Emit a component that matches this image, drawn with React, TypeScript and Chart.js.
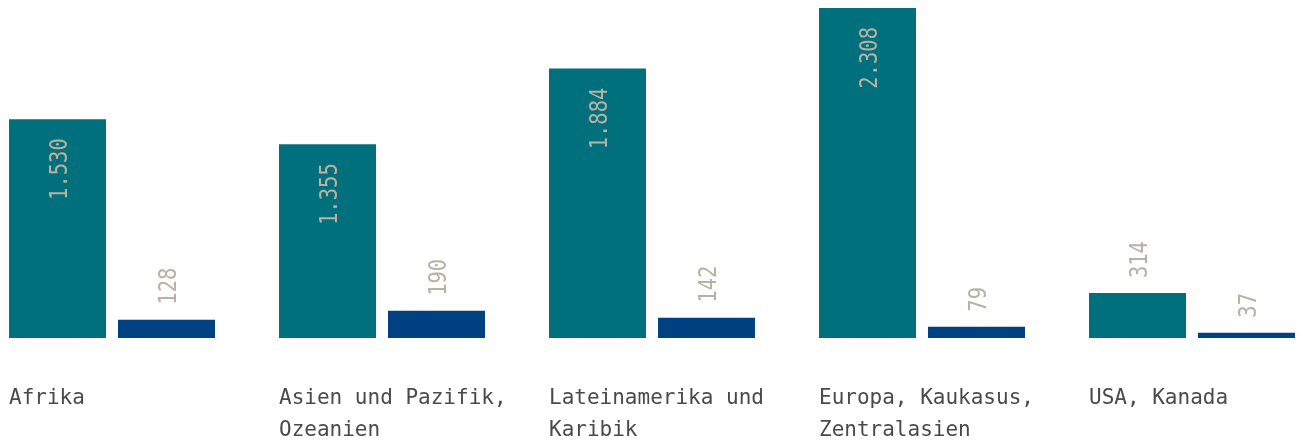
import React, { useEffect, useRef } from "react";
import { Chart, registerables } from "chart.js";

Chart.register(...registerables);

const categories: string[][] = [
  ["Afrika"],
  ["Asien und Pazifik,", "Ozeanien"],
  ["Lateinamerika und", "Karibik"],
  ["Europa, Kaukasus,", "Zentralasien"],
  ["USA, Kanada"],
];
const seriesA: number[] = [1530, 1355, 1884, 2308, 314];
const seriesB: number[] = [128, 190, 142, 79, 37];

const TEAL = "#00707c";
const BLUE = "#004182";
const LABEL = "#b9b1a1";
const TEXT = "#4a4a4a";

function fmt(v: number): string {
  return String(v).replace(/\B(?=(\d{3})+(?!\d))/g, ".");
}

const labelPlugin = {
  id: "customLabels",
  afterDatasetsDraw(chart: any) {
    const ctx: CanvasRenderingContext2D = chart.ctx;
    const fontSize = 25;
    const squeeze = 0.82;
    const cap = fontSize * 0.729;
    ctx.save();
    ctx.font = `${fontSize}px "DejaVu Sans Mono"`;
    ctx.fillStyle = LABEL;
    chart.data.datasets.forEach((ds: any, di: number) => {
      const meta = chart.getDatasetMeta(di);
      meta.data.forEach((bar: any, i: number) => {
        const text = fmt(ds.data[i]);
        const textLen = ctx.measureText(text).width * squeeze;
        const h = bar.base - bar.y;
        ctx.save();
        if (h > textLen + 19 + 12) {
          ctx.translate(bar.x, bar.y + 19);
          ctx.rotate(-Math.PI / 2);
          ctx.scale(squeeze, 1);
          ctx.textAlign = "right";
        } else {
          ctx.translate(bar.x, bar.y - 15);
          ctx.rotate(-Math.PI / 2);
          ctx.scale(squeeze, 1);
          ctx.textAlign = "left";
        }
        ctx.textBaseline = "alphabetic";
        ctx.fillText(text, 0, cap / 2);
        ctx.restore();
      });
    });
    // category labels
    const meta0 = chart.getDatasetMeta(0);
    ctx.font = `21px "DejaVu Sans Mono"`;
    ctx.fillStyle = TEXT;
    ctx.textAlign = "left";
    ctx.textBaseline = "alphabetic";
    meta0.data.forEach((bar: any, i: number) => {
      const left = bar.x - bar.width / 2;
      categories[i].forEach((line, li) => {
        ctx.fillText(line, left, chart.chartArea.bottom + 66 + li * 32);
      });
    });
    ctx.restore();
  },
};

export default function App() {
  const ref = useRef<HTMLCanvasElement | null>(null);
  useEffect(() => {
    if (!ref.current) return;
    const chart = new Chart(ref.current, {
      type: "bar",
      data: {
        labels: categories.map((c) => c.join(" ")),
        datasets: [
          {
            data: seriesA,
            backgroundColor: TEAL,
            categoryPercentage: 218 / 270,
            barPercentage: 97 / 109,
          },
          {
            data: seriesB,
            backgroundColor: BLUE,
            categoryPercentage: 218 / 270,
            barPercentage: 97 / 109,
          },
        ],
      },
      options: {
        responsive: false,
        animation: false,
        layout: { padding: { top: 8, bottom: 103, left: 0, right: 0 } },
        plugins: { legend: { display: false }, tooltip: { enabled: false } },
        scales: {
          x: { display: false },
          y: { display: false, min: 0, max: Math.max(...seriesA, ...seriesB) },
        },
      },
      plugins: [labelPlugin],
    });
    return () => chart.destroy();
  }, []);
  return (
    <div
      style={{
        position: "absolute",
        left: 0,
        top: 0,
        width: 1302,
        height: 441,
        overflow: "hidden",
        background: "#ffffff",
      }}
    >
      <canvas
        ref={ref}
        width={1350}
        height={441}
        style={{ position: "absolute", left: -23, top: 0, width: 1350, height: 441 }}
      />
    </div>
  );
}
